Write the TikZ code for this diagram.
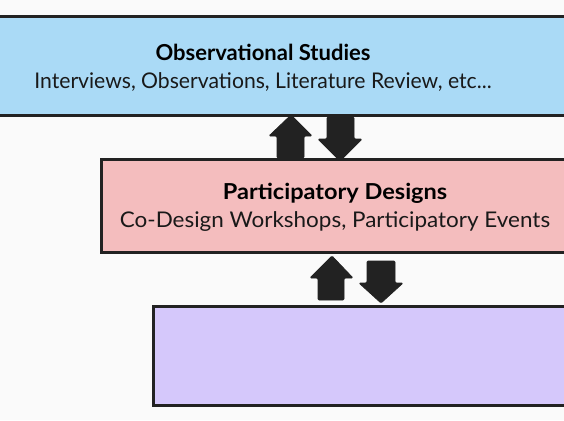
\documentclass[tikz,border=0pt]{standalone}
\usepackage{fontspec}
\setmainfont{Lato}
\definecolor{bg}{HTML}{FAFAFA}
\definecolor{edge}{HTML}{222222}
\definecolor{boxblue}{HTML}{AADAF6}
\definecolor{boxpink}{HTML}{F4BDBE}
\definecolor{boxpurple}{HTML}{D5C8FB}
\begin{document}
\begin{tikzpicture}[x=1pt,y=-1pt,
  stage/.style={draw=edge,line width=3pt},
  blockarrow/.style={fill=edge,draw=edge,line width=0.8pt,rounded corners=1.2pt},
  title/.style={font=\fontsize{22}{24}\selectfont\bfseries,text=black,inner sep=0pt},
  sub/.style={font=\fontsize{21.6}{24}\selectfont,text=black!90,inner sep=0pt}]
\useasboundingbox (0,0) rectangle (564,420);
\fill[bg] (0,0) rectangle (564,420);
% boxes
\filldraw[stage,fill=boxblue] (-10,17) rectangle (580,115);
\filldraw[stage,fill=boxpink] (101,159) rectangle (580,252);
\filldraw[stage,fill=boxpurple] (153,306) rectangle (580,405);
\node[title] (t1) at (263,52) {Observational Studies};
\node[sub,xscale=0.98] (s1) at (263,82) {Interviews, Observations, Literature Review, etc...};
\node[title,xscale=1.07] (t2) at (335,193) {Participatory Designs};
\node[sub,xscale=1.04] (s2) at (335,222) {Co-Design Workshops, Participatory Events};
% arrows top pair
\filldraw[blockarrow] (291,115) -- (312,136) -- (304,136) -- (304,158) -- (277,158) -- (277,136) -- (269,136) -- cycle;
\filldraw[blockarrow] (340,161) -- (362,139) -- (354,139) -- (354,117) -- (327,117) -- (327,139) -- (318,139) -- cycle;
% arrows bottom pair
\filldraw[blockarrow] (332,256) -- (353,278) -- (344,278) -- (344,300) -- (318,300) -- (318,278) -- (310,278) -- cycle;
\filldraw[blockarrow] (381,303) -- (403,283) -- (395,283) -- (395,261) -- (367,261) -- (367,283) -- (359,283) -- cycle;
\end{tikzpicture}
\end{document}
